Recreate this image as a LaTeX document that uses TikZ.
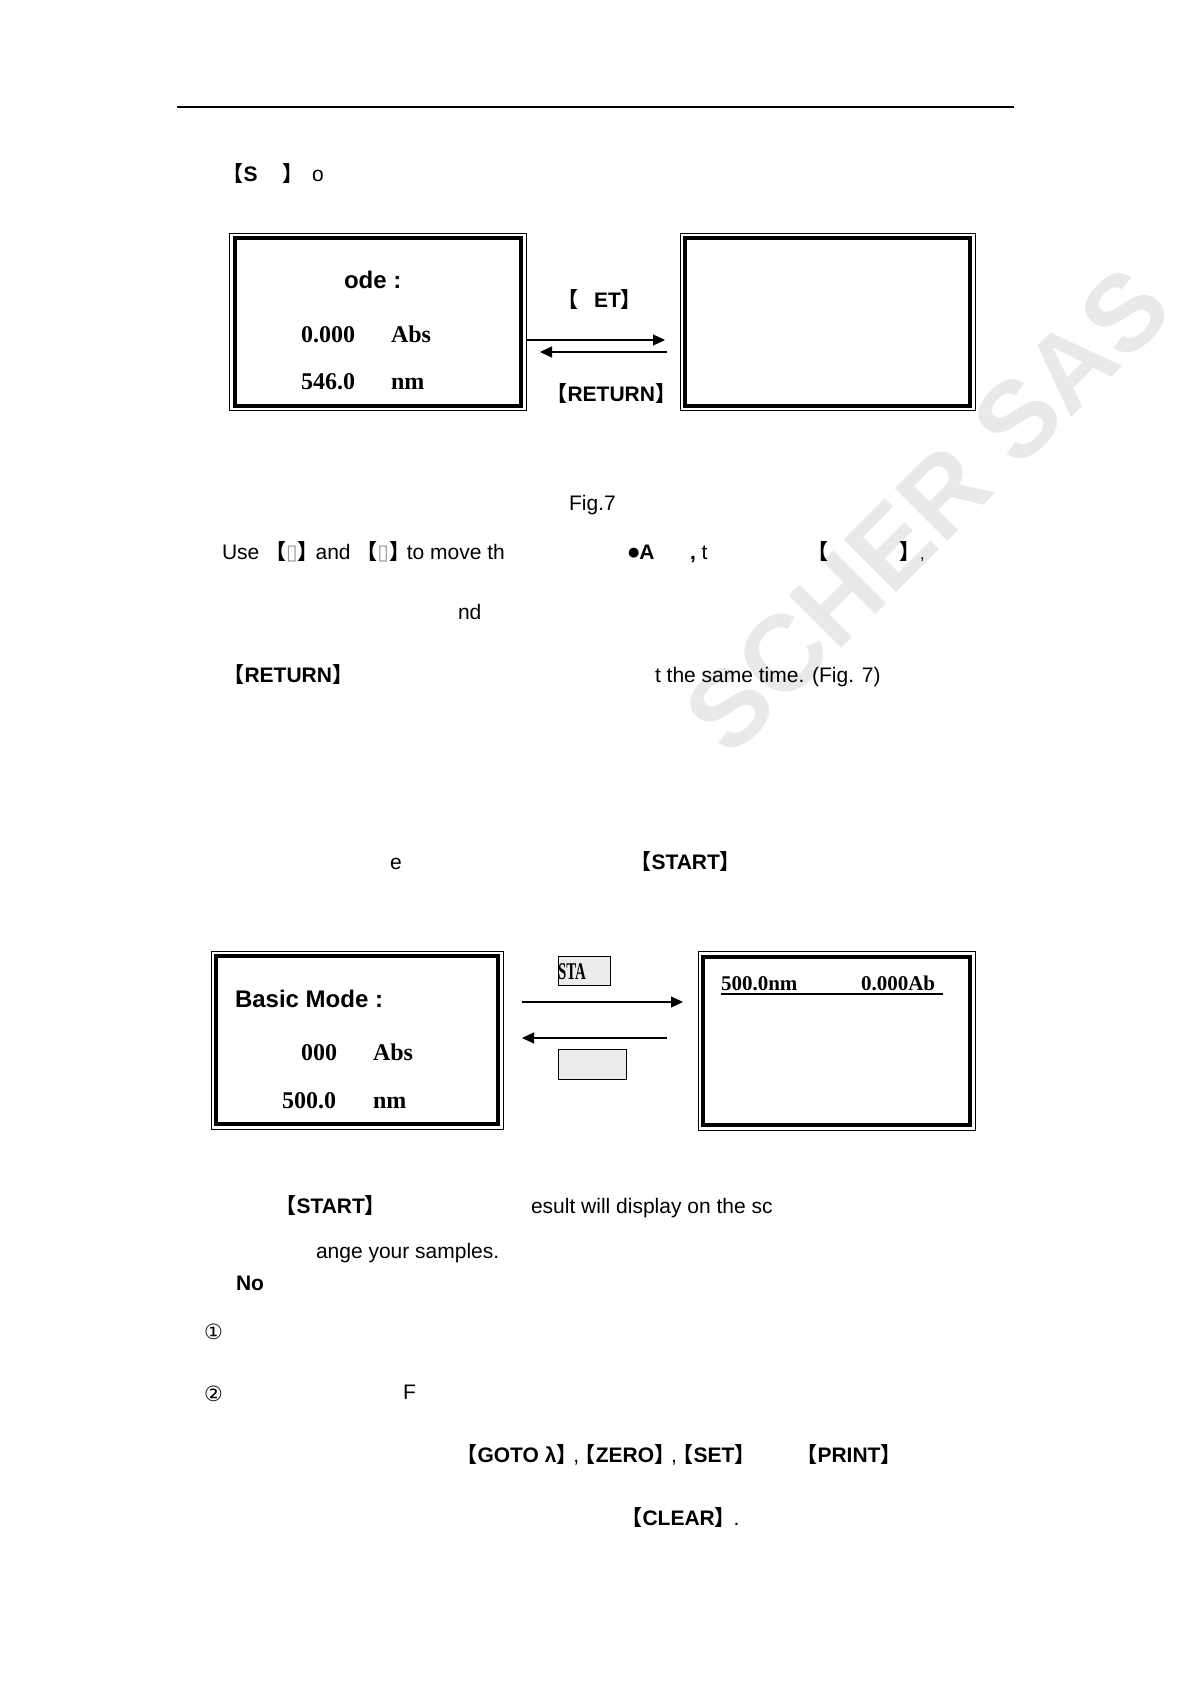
\documentclass[tikz,border=0pt]{standalone}
\usepackage{fontspec}
\setmainfont{Liberation Sans}
\newfontfamily\lcdfont{Liberation Serif}
\newfontfamily\cjk{Noto Sans CJK SC}
\newfontfamily\symfont{DejaVu Sans}
\usetikzlibrary{arrows.meta,fit}
\newcommand\lb{{\cjk\bfseries 【}}
\newcommand\rb{{\cjk\bfseries 】}}
\newcommand\kbd[1]{\lb\textbf{#1}\rb}
\newcommand\tofu{{\symfont\color{gray!80}▯}}
\begin{document}
\begin{tikzpicture}[x=0.5pt, y=-0.5pt,
  font=\fontsize{10.5}{12.6}\selectfont,
  txt/.style={anchor=base west, inner sep=0pt, outer sep=0pt},
  keytxt/.style={txt, xshift=-5.75pt},
  lcd/.style={txt, font=\lcdfont\bfseries\fontsize{12}{14}\selectfont},
  head/.style={txt, font=\bfseries\fontsize{12}{14}\selectfont},
  screen/.style={draw, line width=2pt, outer sep=0pt, inner sep=0pt},
  frame/.style={draw, line width=0.5pt, inner sep=2.5pt, fit=#1},
  keybox/.style={draw, line width=0.5pt, fill=gray!15, inner sep=0pt},
  arr/.style={-{Triangle[length=6pt, width=5.5pt]}, line width=0.6pt}
]
  \useasboundingbox (0,0) rectangle (1190,1684);

  \node[rotate=45, text=gray!17, font=\bfseries\fontsize{54}{54}\selectfont]
        (wm) at (927,510) {SCHER SAS};

  \draw[line width=0.7pt] (177,107) -- (1014,107);

  \node[keytxt] (l1a) at (234,182) {\lb\textbf{S}};
  \node[txt] (l1b) at (282,182) {\rb};
  \node[txt] (l1c) at (312,182) {o};

  % first pair of screens
  \node[screen, minimum width=143.25pt, minimum height=83.75pt] (scr1) at (377.75,322.25) {};
  \node[frame=(scr1)] (scr1o) {};
  \node[screen, minimum width=142.5pt, minimum height=83.75pt] (scr2) at (827.5,322.25) {};
  \node[frame=(scr2)] (scr2o) {};

  \node[head] (mode1) at (344,289) {ode :};
  \node[lcd] (abs1) at (301,343) {0.000};
  \node[lcd] (abs1u) at (391,343) {Abs};
  \node[lcd] (wl1) at (301,390) {546.0};
  \node[lcd] (wl1u) at (391,390) {nm};

  \node[keytxt] (set1) at (569,308) {\lb};
  \node[txt] (set2) at (594,308) {\textbf{ET}\rb};
  \node[keytxt] (ret1) at (558,401) {\kbd{RETURN}};

  \coordinate (a1e) at (665,340);
  \coordinate (a2s) at (667,352);
  \coordinate (a2e) at (540,352);
  \draw[arr] (scr1o.east |- a1e) -- (a1e);
  \draw[arr] (a2s) -- (a2e);

  \node[txt] (fig7) at (569,510) {Fig.7};

  \node[txt] (use) at (222,559) {Use \lb\tofu\rb\kern-.15em and \lb\tofu\rb\kern-.15em to move th};
  \node[txt] (mark) at (628,559) {\raisebox{1.5pt}{\symfont\fontsize{6.5}{7}\selectfont●}\textbf{A}};
  \node[txt] (comma) at (690,559) {\textbf{,} t};
  \node[keytxt] (brl) at (819,559) {\lb};
  \node[txt] (brr) at (899,559) {\rb{\fontsize{8}{9}\selectfont,}};

  \node[txt] (nd) at (458,619) {nd};
  \node[keytxt] (ret2) at (235,682) {\kbd{RETURN}};
  \node[txt] (same) at (655,682) {t the same time. (Fig. 7)};

  \node[txt] (e) at (390,869) {e};
  \node[keytxt] (start1) at (642,869) {\kbd{START}};

  % second pair of screens
  \node[screen, minimum width=141pt, minimum height=84pt] (scr3) at (357,1040) {};
  \node[frame=(scr3)] (scr3o) {};
  \node[screen, minimum width=133.5pt, minimum height=84.25pt] (scr4) at (836.5,1040.75) {};
  \node[frame=(scr4)] (scr4o) {};

  \node[head] (mode2) at (235,1007) {Basic Mode :};
  \node[lcd] (abs2) at (301,1060) {000};
  \node[lcd] (abs2u) at (373,1060) {Abs};
  \node[lcd] (wl2) at (282,1108) {500.0};
  \node[lcd] (wl2u) at (373,1108) {nm};

  \node[keybox, minimum width=26pt, minimum height=14.5pt] (kstart) at (584,970.5) {};
  \node[lcd] (kstartt) at (558,979) {\scalebox{0.62}[1]{STA}};
  \node[keybox, minimum width=34pt, minimum height=15pt] (kret) at (592,1064) {};

  \coordinate (b1s) at (522,1002);
  \coordinate (b1e) at (683,1002);
  \coordinate (b2s) at (667,1038);
  \coordinate (b2e) at (522,1038);
  \draw[arr] (b1s) -- (b1e);
  \draw[arr] (b2s) -- (b2e);

  \node[lcd, font=\lcdfont\bfseries\fontsize{10.5}{12}\selectfont] (res1) at (721,990) {500.0nm};
  \node[lcd, font=\lcdfont\bfseries\fontsize{10.5}{12}\selectfont] (res2) at (861,990) {0.000Ab};
  \draw[line width=0.75pt] (721,994) -- (943,994);

  \node[keytxt] (start2) at (287,1213) {\kbd{START}};
  \node[txt] (result) at (531,1213) {esult will display on the sc};
  \node[txt] (change) at (316,1258) {ange your samples.};
  \node[txt] (note) at (236,1290) {\textbf{No}};

  \node[txt] (n1) at (204,1339) {\symfont ①};
  \node[txt] (n2) at (204,1401) {\symfont ②};
  \node[txt] (f) at (403,1399) {F};

  \node[keytxt] (keys) at (468,1462) {\kbd{GOTO λ}\kern-.2em,\kern-.2em\kbd{ZERO}\kern-.2em,\kern-.2em\kbd{SET}};
  \node[keytxt] (print) at (808,1462) {\kbd{PRINT}};
  \node[keytxt] (clear) at (633,1525) {\kbd{CLEAR}\kern-.1em.};
\end{tikzpicture}
\end{document}
